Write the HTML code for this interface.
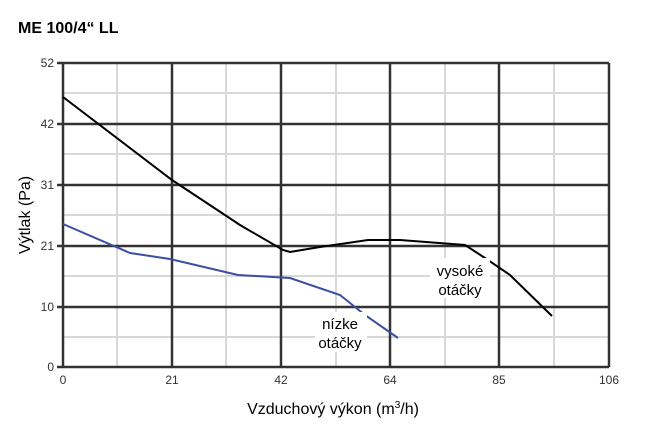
<html><body style="margin:0;background:#fff;width:649px;height:426px;overflow:hidden">
<svg width="649" height="426" xmlns="http://www.w3.org/2000/svg" font-family="Liberation Sans, sans-serif">
<text x="18" y="33" font-size="16" font-weight="bold">ME 100/4“ LL</text>
<g stroke="#d8d8d8" stroke-width="2">
<line x1="117" y1="63" x2="117" y2="367"/><line x1="226" y1="63" x2="226" y2="367"/><line x1="336" y1="63" x2="336" y2="367"/><line x1="445" y1="63" x2="445" y2="367"/><line x1="554" y1="63" x2="554" y2="367"/>
<line x1="63" y1="93" x2="609" y2="93"/><line x1="63" y1="154" x2="609" y2="154"/><line x1="63" y1="215" x2="609" y2="215"/><line x1="63" y1="276" x2="609" y2="276"/><line x1="63" y1="337" x2="609" y2="337"/>
</g>
<g stroke="#333" stroke-width="2.5">
<line x1="63" y1="63" x2="63" y2="367"/><line x1="172" y1="63" x2="172" y2="367"/><line x1="281" y1="63" x2="281" y2="367"/><line x1="390" y1="63" x2="390" y2="367"/><line x1="499" y1="63" x2="499" y2="367"/><line x1="609" y1="63" x2="609" y2="367"/>
<line x1="57" y1="63" x2="609" y2="63"/><line x1="57" y1="124" x2="609" y2="124"/><line x1="57" y1="185" x2="609" y2="185"/><line x1="57" y1="246" x2="609" y2="246"/><line x1="57" y1="307" x2="609" y2="307"/><line x1="57" y1="367" x2="609" y2="367"/>
</g>
<polyline fill="none" stroke="#000" stroke-width="2" points="63,97 172,180 240,225 283,250 290,252 320,247 368,240 400,240 465,245 485,258 510,275 552,316"/>
<polyline fill="none" stroke="#3a4fa0" stroke-width="2" points="63,224 130,253 170,259 238,275 290,278 340,295 365,315 398,338"/>
<g font-size="15" text-anchor="middle">
<rect x="430" y="258" width="60" height="40" fill="#fff"/>
<text x="460" y="276">vysoké</text><text x="460" y="295">otáčky</text>
<rect x="315" y="312" width="52" height="40" fill="#fff"/>
<text x="340" y="329">nízke</text><text x="340" y="348">otáčky</text>
</g>
<g font-size="12" fill="#333" text-anchor="end">
<text x="54" y="67">52</text><text x="54" y="128">42</text><text x="54" y="189">31</text><text x="54" y="250">21</text><text x="54" y="311">10</text><text x="54" y="371">0</text>
</g>
<g font-size="12" fill="#333" text-anchor="middle">
<text x="63" y="384">0</text><text x="172" y="384">21</text><text x="281" y="384">42</text><text x="390" y="384">64</text><text x="499" y="384">85</text><text x="609" y="384">106</text>
</g>
<text x="333" y="414" font-size="16" text-anchor="middle">Vzduchový výkon (m<tspan font-size="10" dy="-6">3</tspan><tspan dy="6">/h)</tspan></text>
<text transform="translate(30,215) rotate(-90)" font-size="16" text-anchor="middle">Výtlak (Pa)</text>
</svg>
</body></html>
